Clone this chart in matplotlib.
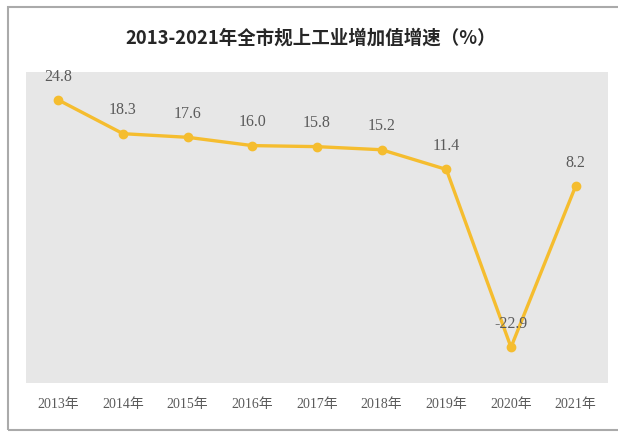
import matplotlib
matplotlib.use("Agg")
import matplotlib.pyplot as plt
from matplotlib.patches import Rectangle

years = ["2013年", "2014年", "2015年", "2016年", "2017年", "2018年", "2019年", "2020年", "2021年"]
growth = [24.8, 18.3, 17.6, 16.0, 15.8, 15.2, 11.4, -22.9, 8.2]
labels = ["24.8", "18.3", "17.6", "16.0", "15.8", "15.2", "11.4", "-22.9", "8.2"]
title = "2013-2021年全市规上工业增加值增速（%）"

serif = ["Liberation Serif", "Noto Sans CJK SC"]

fig = plt.figure(figsize=(6.18, 4.32), dpi=100)
fig.patch.set_facecolor("white")
fig.patches.append(Rectangle((8 / 618, 1 - 430 / 432), 1.0, (430 - 7) / 432,
                             transform=fig.transFigure, fill=False,
                             edgecolor="#aaaaaa", linewidth=1.5))

ax = fig.add_axes([26 / 618, 1 - 383 / 432, (608 - 26) / 618, (383 - 72) / 432])
ax.set_facecolor("#e7e7e7")
x = list(range(len(years)))
ax.plot(x, growth, color="#f5bd2f", linewidth=2.4, marker="o", markersize=6,
        solid_joinstyle="round")
for xi, v, t in zip(x, growth, labels):
    ax.annotate(t, (xi, v), xytext=(0, 11), textcoords="offset points",
                ha="center", va="bottom", fontsize=11.5, color="#5a5a5a",
                family=serif)

ax.set_xlim(-0.5, 8.5)
ax.set_ylim(-29.8, 30.2)
ax.set_xticks(x)
ax.set_xticklabels(years, family=serif, fontsize=10, color="#5a5a5a")
ax.set_yticks([])
ax.tick_params(axis="x", length=0, pad=11)
for s in ax.spines.values():
    s.set_visible(False)

fig.text(0.502, 1 - 38 / 432, title, ha="center", va="center", fontsize=13.3,
         fontweight="bold", color="#262626", family=["Noto Sans CJK SC", "DejaVu Sans"])

fig.savefig("out.png", dpi=100)
